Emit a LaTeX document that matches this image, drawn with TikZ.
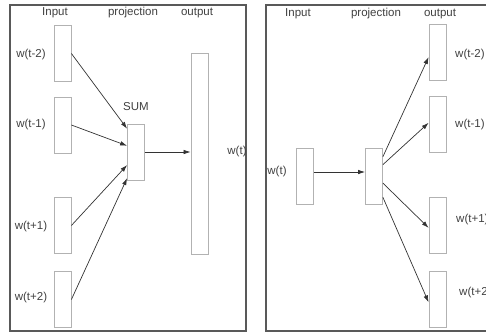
\documentclass[tikz,border=0pt]{standalone}
\usepackage{fontspec}
\setmainfont{Liberation Sans}
\usetikzlibrary{calc,arrows.meta}
\begin{document}
\begin{tikzpicture}[x=1pt,y=-1pt,
    unit/.style={draw=black!30, line width=0.8pt, inner sep=0pt, minimum width=17pt, minimum height=56pt},
    lbl/.style={text=black!75, font=\fontsize{11.5}{12}\selectfont, inner sep=0pt},
    conn/.style={-{Latex[length=7pt,width=4.5pt]}, draw=black!80, line width=0.7pt},
    frame/.style={draw=black!65, line width=1.3pt}]
    \useasboundingbox (0,0) rectangle (486,333);
    \clip (0,0) rectangle (486,333);

    % CBOW
    \begin{scope}
        \draw[frame] (10,5) rectangle (246,331);
        \node[lbl] (cIn) at (55,13) {Input};
        \node[lbl] (cProj) at (133,13) {projection};
        \node[lbl] (cOut) at (197,13) {output};

        \node[unit] (cin1) at (62.5,53.5) {};
        \node[unit] (cin2) at (62.5,125) {};
        \node[unit] (cin3) at (62.5,225.5) {};
        \node[unit] (cin4) at (62.5,299.5) {};
        \node[unit] (cproj) at (136,152) {};
        \node[unit, minimum height=201pt] (cout) at (199.5,153.5) {};

        \node[lbl] (cw1) at (31,55) {w(t-2)};
        \node[lbl] (cw2) at (31,125) {w(t-1)};
        \node[lbl] (cw3) at (31,227) {w(t+1)};
        \node[lbl] (cw4) at (31,298) {w(t+2)};
        \node[lbl] (csum) at (136,107) {SUM};
        \node[lbl] (cw) at (237,152) {w(t)};

        \draw[conn] (cin1.east) -- ($(cproj.north west)!0.09!(cproj.south west)$);
        \draw[conn] (cin2.east) -- ($(cproj.north west)!0.39!(cproj.south west)$);
        \draw[conn] (cin3.east) -- ($(cproj.north west)!0.73!(cproj.south west)$);
        \draw[conn] (cin4.east) -- ($(cproj.north west)!0.96!(cproj.south west)$);
        \draw[conn] (cproj.east) -- (cout.west |- cproj.east);
    \end{scope}

    % Skip-gram
    \begin{scope}
        \draw[frame] (490,5) -- (266,5) -- (266,331) -- (490,331);
        \node[lbl] (sIn) at (298,14) {Input};
        \node[lbl] (sProj) at (376,14) {projection};
        \node[lbl] (sOut) at (440,14) {output};

        \node[unit] (sin) at (305,176) {};
        \node[unit] (sproj) at (374,176) {};
        \node[unit] (sout1) at (437.5,52.5) {};
        \node[unit] (sout2) at (437.5,124.5) {};
        \node[unit] (sout3) at (437.5,225) {};
        \node[unit] (sout4) at (437.5,299.5) {};

        \node[lbl] (sw) at (277,172) {w(t)};
        \node[lbl, anchor=west] (sw1) at (455,55) {w(t-2)};
        \node[lbl, anchor=west] (sw2) at (455,125) {w(t-1)};
        \node[lbl, anchor=west] (sw3) at (456,220) {w(t+1)};
        \node[lbl, anchor=west] (sw4) at (459,293) {w(t+2)};

        \draw[conn] (sin.east |- sw) -- (sproj.west |- sw);
        \draw[conn] ($(sproj.north east)!0.16!(sproj.south east)$) -- ($(sout1.north west)!0.58!(sout1.south west)$);
        \draw[conn] ($(sproj.north east)!0.3!(sproj.south east)$) -- ($(sout2.north west)!0.47!(sout2.south west)$);
        \draw[conn] ($(sproj.north east)!0.625!(sproj.south east)$) -- ($(sout3.north west)!0.55!(sout3.south west)$);
        \draw[conn] ($(sproj.north east)!0.875!(sproj.south east)$) -- ($(sout4.north west)!0.55!(sout4.south west)$);
    \end{scope}
\end{tikzpicture}
\end{document}
